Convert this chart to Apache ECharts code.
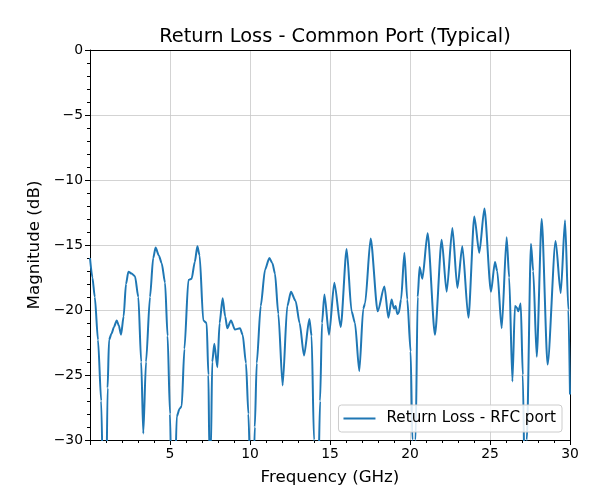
<!DOCTYPE html>
<html>
<head>
<meta charset="utf-8">
<script src="https://cdn.jsdelivr.net/npm/echarts@6/dist/echarts.min.js"></script>
<style>html,body{margin:0;padding:0;background:#fff}#c{width:600px;height:500px}</style>
</head>
<body>
<div id="c"></div>
<script>
const freqGHz = [0.0,0.15,0.3,0.5,0.7,0.85,1.0,1.1,1.19,1.35,1.5,1.67,1.8,1.94,2.1,2.25,2.4,2.6,2.81,3.02,3.2,3.33,3.5,3.75,3.95,4.1,4.3,4.48,4.69,4.85,5.0,5.1,5.3,5.42,5.6,5.73,5.9,6.15,6.35,6.55,6.71,6.85,7.08,7.29,7.4,7.46,7.55,7.64,7.77,7.96,8.1,8.29,8.45,8.58,8.81,9.06,9.375,9.54,9.75,9.9,10.05,10.2,10.3,10.42,10.67,10.94,11.21,11.4,11.56,11.77,12.04,12.33,12.56,12.85,13.1,13.375,13.71,13.85,14.0,14.1,14.25,14.38,14.5,14.65,14.94,15.27,15.67,16.04,16.35,16.56,16.83,17.08,17.19,17.54,17.98,18.4,18.65,18.85,19.0,19.1,19.21,19.3,19.44,19.65,19.83,20.04,20.15,20.25,20.35,20.48,20.6,20.77,21.1,21.56,21.98,22.29,22.65,22.96,23.27,23.65,24.02,24.33,24.65,25.06,25.31,25.45,25.73,26.04,26.2,26.4,26.56,26.67,26.77,26.92,27.05,27.2,27.3,27.56,27.7,27.92,28.23,28.6,29.1,29.42,29.69,29.9,30.0];
const returnLossDb = [-16.0,-17.5,-19.0,-22.3,-27,-36,-36,-26,-22.3,-21.8,-21.3,-20.8,-21.2,-21.9,-20.5,-18,-17.05,-17.2,-17.4,-19,-24,-29.5,-24,-19,-16,-15.2,-15.8,-16.4,-17.9,-22,-28,-34,-34,-28.2,-27.6,-27.4,-23,-17.7,-17.6,-16.3,-15.1,-15.8,-20.8,-21.0,-25,-31,-31,-24,-22.6,-24.4,-21,-19.1,-20.5,-21.4,-20.8,-21.5,-21.4,-21.9,-24.1,-28,-34,-34,-29,-24.1,-19.7,-16.9,-16.0,-16.4,-17.2,-20.3,-25.8,-19.7,-18.6,-19.3,-21,-23.5,-20.7,-22,-30,-34,-34,-27,-21,-18.8,-21.9,-17.9,-21.3,-15.3,-20.1,-21.0,-24.7,-19.9,-19.5,-14.5,-20.1,-18.2,-20.6,-19.2,-19.9,-19.7,-20.3,-20.2,-19.2,-15.6,-19.2,-23.2,-30,-35,-30,-19,-16.7,-17.6,-14.1,-21.9,-14.6,-18.6,-13.7,-18.3,-15.1,-20.6,-12.8,-15.6,-12.2,-18.6,-16.3,-17,-21.4,-14.4,-17.5,-25.5,-19.7,-19.8,-20.1,-19.5,-25,-36,-30,-14.9,-17,-23.6,-13.0,-24.2,-14.7,-18.7,-13.1,-20,-26.5];
const seriesName = 'Return Loss - RFC port';
const titleText = 'Return Loss - Common Port (Typical)';
const xName = 'Frequency (GHz)';
const yName = 'Magnitude (dB)';

const pts = freqGHz.map((f,i)=>[f, returnLossDb[i]]);
const font = 'DejaVu Sans';
const frameAxis = {show:true,axisLine:{show:true,onZero:false,lineStyle:{color:'#000',width:1}},axisTick:{show:false},axisLabel:{show:false},splitLine:{show:false}};
const chart = echarts.init(document.getElementById('c'));
chart.setOption({
  animation:false,
  backgroundColor:'#fff',
  title:{text:titleText,left:330,top:22,textAlign:'center',textStyle:{fontFamily:font,fontSize:19.4,fontWeight:'normal',color:'#000'}},
  grid:{left:90,right:30,top:50,bottom:60},
  legend:{data:[{name:seriesName,icon:'rect'}],right:38,bottom:68,orient:'horizontal',itemWidth:32,itemHeight:2,itemGap:8,
    backgroundColor:'rgba(255,255,255,0.85)',borderColor:'#cccccc',borderWidth:1,borderRadius:3,padding:[6,6,6,5],
    textStyle:{fontFamily:font,fontSize:15.2,color:'#000',padding:[0,0,0,6]}},
  xAxis:[{type:'value',min:0,max:30,interval:5,name:xName,nameLocation:'middle',nameGap:29,
    nameTextStyle:{fontFamily:font,fontSize:16.7,color:'#000'},
    axisLine:{show:true,onZero:false,lineStyle:{color:'#000',width:1}},
    axisTick:{show:true,length:5,lineStyle:{color:'#000'}},
    minorTick:{show:true,splitNumber:5,length:3,lineStyle:{color:'#000'}},
    axisLabel:{fontFamily:font,fontSize:13.9,color:'#000',margin:7,formatter:v=>v===0?'':String(v)},
    splitLine:{show:true,lineStyle:{color:'#c8c8c8',width:0.8}}},
    Object.assign({type:'value',min:0,max:30,position:'top'},frameAxis)],
  yAxis:[{type:'value',min:-30,max:0,interval:5,name:yName,nameLocation:'middle',nameGap:46,nameRotate:90,
    nameTextStyle:{fontFamily:font,fontSize:16.7,color:'#000'},
    axisLine:{show:true,onZero:false,lineStyle:{color:'#000',width:1}},
    axisTick:{show:true,length:5,lineStyle:{color:'#000'}},
    minorTick:{show:true,splitNumber:5,length:3,lineStyle:{color:'#000'}},
    axisLabel:{fontFamily:font,fontSize:13.9,color:'#000',margin:7,formatter:v=>v<0?'\u2212'+Math.abs(v):String(v)},
    splitLine:{show:true,lineStyle:{color:'#c8c8c8',width:0.8}}},
    Object.assign({type:'value',min:-30,max:0,position:'right'},frameAxis)],
  series:[{name:seriesName,type:'line',data:pts,symbol:'none',smooth:0.25,smoothMonotone:'x',clip:true,
    lineStyle:{color:'#1f77b4',width:2},itemStyle:{color:'#1f77b4'}}]
});
</script>
</body>
</html>
